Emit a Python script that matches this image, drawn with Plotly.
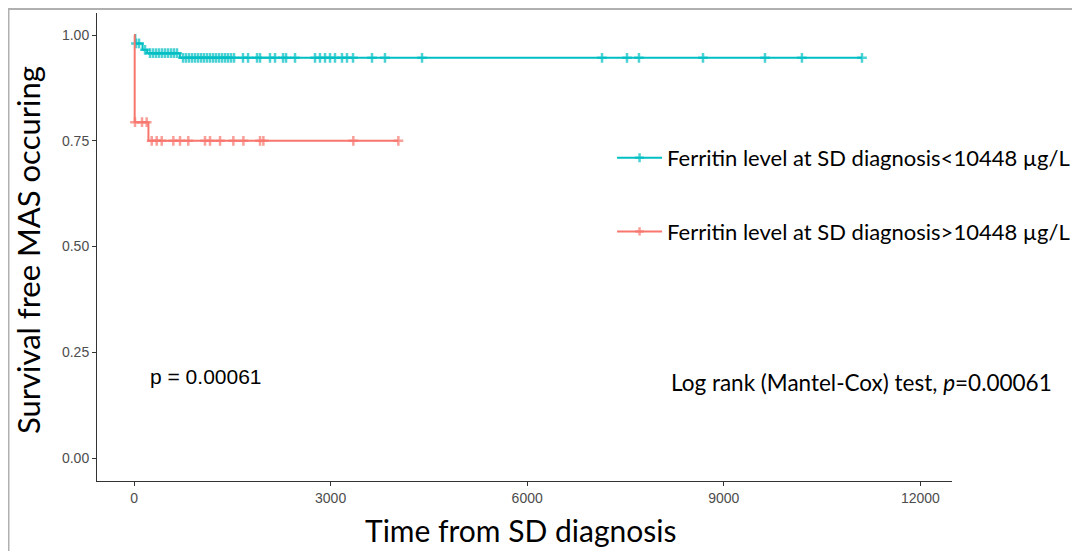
import plotly.graph_objects as go

# ---- data ----
cyan_event_times = [0, 20, 130, 200, 700]
cyan_surv = [1.0, 0.980, 0.965, 0.957, 0.946]
cyan_censor_times = [30, 76, 168, 244, 290, 336, 381, 427, 473, 519, 565, 610, 656,
                     748, 793, 839, 885, 931, 977, 1023, 1068, 1114, 1160, 1206, 1251,
                     1297, 1343, 1389, 1434, 1480, 1526, 1663, 1740, 1877, 1923, 2075,
                     2152, 2274, 2320, 2457, 2762, 2838, 2915, 2991, 3067, 3174, 3250,
                     3342, 3632, 3830, 4395, 7142, 7523, 7706, 8683, 9629, 10193, 11109]

red_event_times = [0, 10, 220]
red_surv = [1.0, 0.794, 0.75]
red_censor_times = [15, 122, 193, 270, 346, 423, 600, 702, 828, 1083, 1160, 1313,
                    1516, 1669, 1923, 1974, 3347, 4034]

names = ["Ferritin level at SD diagnosis<10448 µg/L",
         "Ferritin level at SD diagnosis>10448 µg/L"]
colors = ["#00BFC4", "#F8766D"]
x_ticks = [0, 3000, 6000, 9000, 12000]
y_ticks = [0.0, 0.25, 0.5, 0.75, 1.0]


def km_points(ev_t, ev_s, cen_t):
    pts = [(t, s, 0) for t, s in zip(ev_t, ev_s)]
    for c in cen_t:
        s = ev_s[0]
        for t, v in zip(ev_t, ev_s):
            if t <= c:
                s = v
        pts.append((c, s, 1))
    pts.sort(key=lambda p: (p[0], p[2]))
    return [p[0] for p in pts], [p[1] for p in pts], [7 if p[2] else 0 for p in pts]


fig = go.Figure()
for i, (et, es, ct) in enumerate([(cyan_event_times, cyan_surv, cyan_censor_times),
                                  (red_event_times, red_surv, red_censor_times)]):
    xs, ys, sz = km_points(et, es, ct)
    fig.add_trace(go.Scatter(
        x=xs, y=ys, mode="lines+markers", name=names[i], legendgroup=str(i),
        line=dict(color=colors[i], width=2, shape="hv"),
        marker=dict(symbol="cross-thin", size=sz, color=colors[i],
                    line=dict(color=colors[i], width=2.5)),
    ))

PW, PH = 855, 468  # plot area size in px (for placing texts)

fig.add_annotation(x=(148 - 97) / PW, y=(481 - 376) / PH, xref="paper", yref="paper",
                   text="p = 0.00061", showarrow=False, xanchor="left", yanchor="middle",
                   font=dict(family="Liberation Sans, Arial", size=21, color="black"))
fig.add_annotation(x=(669 - 97) / PW, y=(481 - 382) / PH, xref="paper", yref="paper",
                   text="Log rank (Mantel-Cox) test, <i>p</i>=0.00061",
                   showarrow=False, xanchor="left", yanchor="middle",
                   font=dict(family="Lato", size=22.5, color="black"))

# axis titles
fig.add_annotation(x=(520 - 97) / PW, y=(481 - 530) / PH, xref="paper", yref="paper",
                   text="Time from SD diagnosis", showarrow=False,
                   xanchor="center", yanchor="middle",
                   font=dict(family="Lato", size=30, color="black"))
fig.add_annotation(x=(28 - 97) / PW, y=(481 - 250) / PH, xref="paper", yref="paper",
                   text="Survival free MAS occuring", showarrow=False, textangle=-90,
                   xanchor="center", yanchor="middle",
                   font=dict(family="Lato", size=31, color="black"))

# outer frame
fig.add_shape(type="rect", xref="paper", yref="paper", x0=-0.1035, x1=1.1439,
              y0=-0.3, y1=1.0085, line=dict(color="#B0B0B0", width=2),
              fillcolor="rgba(0,0,0,0)", layer="below")

axis_common = dict(showgrid=False, zeroline=False, showline=True, linecolor="#333333",
                   linewidth=1, ticks="outside", ticklen=4, tickcolor="#333333",
                   automargin=False,
                   tickfont=dict(family="Liberation Sans Narrow, Arial", size=14,
                                 color="#4D4D4D"))

fig.update_layout(
    width=1072, height=543,
    margin=dict(l=89, r=128, t=5, b=70),
    paper_bgcolor="white", plot_bgcolor="white",
    xaxis=dict(range=[-565, 12483], tickvals=x_ticks, ticktext=[str(v) for v in x_ticks],
               **axis_common),
    yaxis=dict(range=[-0.054, 1.052], tickvals=y_ticks,
               ticktext=[f"{v:.2f}" for v in y_ticks], **axis_common),
    legend=dict(x=0.6024, y=0.735, xanchor="left", yanchor="top", tracegroupgap=42,
                bgcolor="rgba(0,0,0,0)", itemwidth=45,
                font=dict(family="Lato", size=22, color="black")),
    showlegend=True,
)

fig.write_html("out.html")
